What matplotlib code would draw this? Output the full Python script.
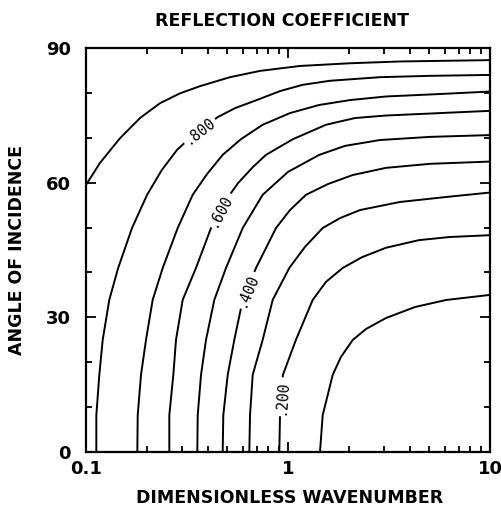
import numpy as np
import matplotlib
matplotlib.use('Agg')
import matplotlib.pyplot as plt
from matplotlib.ticker import FixedLocator, NullFormatter

# contour levels of the reflection coefficient
levels = [0.9, 0.8, 0.7, 0.6, 0.5, 0.4, 0.3, 0.2, 0.1]

# points: wavenumber (log axis) and angle of incidence (deg)
k_90 = [0.1, 0.1173, 0.1473, 0.1851, 0.2325, 0.2920, 0.3667, 0.5164,
        0.7270, 1.147, 2.027, 3.585, 10]
ang_90 = [59.5, 64.4, 69.9, 74.4, 77.7, 79.9, 81.5, 83.5,
          84.9, 86.0, 86.6, 87.0, 87.3]

k_80 = [0.1125, 0.1125, 0.1164, 0.1210, 0.1304, 0.1443, 0.1690, 0.2004, 0.2371,
        0.2822, 0.3386, 0.4487, 0.5466, 0.6998, 0.9129, 1.183, 1.614,
        2.854, 5.047, 10]
ang_80 = [0, 8.2, 17.2, 25.0, 33.9, 41.0, 49.9, 57.25, 62.8,
          67.3, 70.6, 74.6, 76.6, 78.4, 80.4, 81.8, 82.7,
          83.5, 83.8, 84.0]

k_70 = [0.1795, 0.1803, 0.1872, 0.1982, 0.2139, 0.2398, 0.2844, 0.3375, 0.3972,
        0.4750, 0.5853, 0.7494, 1.023, 1.424, 2.028, 3.056, 5.657, 10]
ang_70 = [0, 8.2, 17.2, 25.0, 33.9, 41.0, 49.9, 57.3, 61.9,
          66.2, 69.7, 72.9, 75.5, 77.3, 78.4, 79.2, 79.75, 80.3]

k_60 = [0.2585, 0.2585, 0.2706, 0.2790, 0.3011, 0.3504, 0.4158, 0.4822, 0.5657,
        0.6707, 0.7781, 1.059, 1.542, 2.146, 3.056, 5.657, 10]
ang_60 = [0, 8.2, 17.2, 25.0, 33.9, 41.0, 49.9, 55.5, 59.9,
          63.5, 66.2, 69.7, 72.9, 74.4, 74.96, 75.5, 76.0]

k_50 = [0.3556, 0.3573, 0.3710, 0.3928, 0.4318, 0.4933, 0.5968, 0.7494, 1.0,
        1.429, 1.916, 2.854, 5.047, 10]
ang_50 = [0, 8.2, 17.2, 25.0, 33.9, 41.0, 49.9, 57.3, 62.4,
          66.2, 68.2, 69.5, 70.2, 70.6]

k_40 = [0.4750, 0.4783, 0.5030, 0.5423, 0.5968, 0.6944, 0.8724, 1.023, 1.228,
        1.578, 2.091, 3.056, 5.047, 10]
ang_40 = [0, 8.2, 17.2, 25.0, 33.9, 41.0, 49.9, 53.9, 57.3,
          59.7, 61.7, 63.3, 64.2, 64.7]

k_30 = [0.6434, 0.6486, 0.6688, 0.7494, 0.8402, 1.015, 1.214, 1.485, 1.809,
        2.272, 3.585, 6.339, 10]
ang_30 = [0, 8.2, 17.2, 25.0, 33.9, 41.0, 45.7, 49.9, 52.1,
          53.9, 55.7, 56.9, 57.8]

k_20 = [0.9056, 0.9129, 0.9440, 1.095, 1.326, 1.542, 1.866, 2.325, 3.056,
        4.451, 6.339, 10]
ang_20 = [0, 8.2, 17.2, 25.0, 33.9, 37.9, 41.0, 43.4, 45.5,
          47.2, 47.9, 48.3]

k_10 = [1.440, 1.485, 1.665, 1.830, 2.091, 2.433, 3.056, 4.253, 6.056, 10]
ang_10 = [0, 8.2, 17.2, 21.2, 24.95, 27.4, 29.85, 32.3, 33.86, 35.0]

curves = [(k_90, ang_90), (k_80, ang_80), (k_70, ang_70), (k_60, ang_60),
          (k_50, ang_50), (k_40, ang_40), (k_30, ang_30), (k_20, ang_20),
          (k_10, ang_10)]

# inline labels: which level, text, angle where the label sits
label_idx = [1, 3, 5, 7]
label_txt = ['.800', '.600', '.400', '.200']
label_ang = [71.6, 53.9, 36.1, 12.3]

fig = plt.figure(figsize=(5.02, 5.07), dpi=100)
ax = fig.add_axes([86 / 502, 1 - 452 / 507, 404 / 502, 404 / 507])
ax.set_xscale('log')
ax.set_xlim(0.1, 10)
ax.set_ylim(0, 90)

for k, a in curves:
    ax.plot(k, a, color='black', lw=1.4, solid_joinstyle='round')

# place the labels on the lines, rotated along them
for i, txt, a0 in zip(label_idx, label_txt, label_ang):
    k, a = curves[i]
    lk = np.log10(k)
    x0 = 10 ** np.interp(a0, a, lk)
    p1 = ax.transData.transform((10 ** np.interp(a0 - 2, a, lk), a0 - 2))
    p2 = ax.transData.transform((10 ** np.interp(a0 + 2, a, lk), a0 + 2))
    rot = np.degrees(np.arctan2(p2[1] - p1[1], p2[0] - p1[0]))
    ax.text(x0, a0, txt, rotation=rot, rotation_mode='anchor',
            ha='center', va='center', fontsize=10.5, family='DejaVu Sans Mono',
            bbox=dict(facecolor='white', edgecolor='none', pad=1.5))

ax.xaxis.set_major_locator(FixedLocator([0.1, 1, 10]))
ax.set_xticklabels(['0.1', '1', '10'])
ax.xaxis.set_minor_locator(FixedLocator([m * d for d in (0.1, 1) for m in range(2, 10)]))
ax.xaxis.set_minor_formatter(NullFormatter())
ax.set_yticks([0, 30, 60, 90])
ax.yaxis.set_minor_locator(FixedLocator(np.arange(0, 91, 10)))

ax.tick_params(which='both', direction='in', top=True, right=True, width=1.3)
ax.tick_params(which='major', length=7)
ax.tick_params(which='minor', length=4.5)
ax.tick_params(axis='x', which='major', pad=6, labelsize=13)
ax.tick_params(axis='y', which='major', pad=11, labelsize=13)
for lab in ax.get_xticklabels() + ax.get_yticklabels():
    lab.set_fontweight('bold')
for s in ax.spines.values():
    s.set_linewidth(1.6)

fig.text(282 / 502, 1 - 21 / 507, 'REFLECTION COEFFICIENT', ha='center', va='center',
         fontsize=12.5, fontweight='bold')
fig.text(290 / 502, 1 - 498 / 507, 'DIMENSIONLESS WAVENUMBER', ha='center', va='center',
         fontsize=12.5, fontweight='bold')
fig.text(17 / 502, 1 - 250 / 507, 'ANGLE OF INCIDENCE', ha='center', va='center',
         rotation=90, fontsize=12.5, fontweight='bold')

plt.savefig('out.png', dpi=100)
